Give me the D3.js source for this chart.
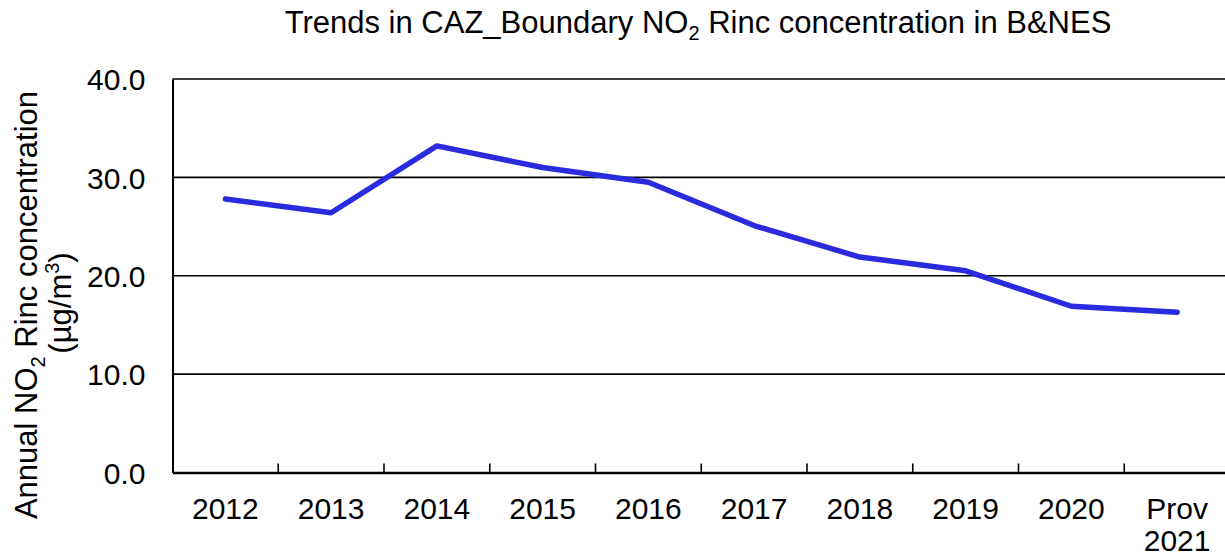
<!DOCTYPE html>
<html>
<head>
<meta charset="utf-8">
<script src="https://cdn.jsdelivr.net/npm/d3@7"></script>
<style>
  body { margin: 0; background: #fff; }
  svg { display: block; font-family: "Liberation Sans", Arial, sans-serif; }
</style>
</head>
<body>
<svg id="chart" width="1225" height="558"></svg>
<script>
const years = ['2012', '2013', '2014', '2015', '2016', '2017', '2018', '2019', '2020', 'Prov 2021']
const values = [27.8, 26.4, 33.2, 31.0, 29.5, 25.1, 21.9, 20.5, 16.9, 16.3]
const yTicks = [0, 10, 20, 30, 40]

const margin = {left: 172.5, top: 79, bottom: 472.5}
const plotRight = 1230

const svg = d3.select('#chart')

const x = d3.scaleBand().domain(years).range([margin.left, plotRight])
const y = d3.scaleLinear().domain([0, 40]).range([margin.bottom, margin.top])

// gridlines
svg.append('g')
  .selectAll('line')
  .data(yTicks.filter(d => d > 0))
  .join('line')
  .attr('x1', margin.left).attr('x2', plotRight)
  .attr('y1', d => y(d)).attr('y2', d => y(d))
  .attr('stroke', '#000').attr('stroke-width', 1.6)

// y axis
const yAxis = svg.append('g')
  .attr('transform', `translate(${margin.left},0)`)
  .call(d3.axisLeft(y).tickValues(yTicks).tickSize(0).tickPadding(27).tickFormat(d3.format('.1f')))
yAxis.select('.domain').attr('stroke-width', 2)
yAxis.selectAll('text').attr('font-size', 30).attr('fill', '#000').attr('font-family', null)
  .attr('dy', '0.36em')

// x axis
const xAxis = svg.append('g')
  .attr('transform', `translate(0,${margin.bottom})`)
  .call(d3.axisBottom(x).tickSize(0).tickFormat(''))
xAxis.select('.domain').attr('stroke-width', 2.4)
xAxis.selectAll('.tick').remove()

// inner tick marks between categories
svg.append('g')
  .selectAll('line')
  .data(years.slice(1))
  .join('line')
  .attr('x1', d => x(d)).attr('x2', d => x(d))
  .attr('y1', margin.bottom).attr('y2', margin.bottom - 9)
  .attr('stroke', '#000').attr('stroke-width', 1.6)

// x labels
const xl = svg.append('g')
  .selectAll('text')
  .data(years)
  .join('text')
  .attr('x', d => x(d) + x.bandwidth() / 2)
  .attr('y', 519)
  .attr('text-anchor', 'middle')
  .attr('font-size', 30)
xl.each(function(d) {
  const parts = d.split(' ')
  const t = d3.select(this)
  parts.forEach((p, i) => {
    t.append('tspan').attr('x', x(d) + x.bandwidth() / 2).attr('dy', i ? 32 : 0).text(p)
  })
})

// line
const line = d3.line()
  .x((d, i) => x(years[i]) + x.bandwidth() / 2)
  .y(d => y(d))
svg.append('path')
  .datum(values)
  .attr('d', line)
  .attr('fill', 'none')
  .attr('stroke', '#2a2adf')
  .attr('stroke-width', 5.5)
  .attr('stroke-linejoin', 'round')
  .attr('stroke-linecap', 'round')

// title
const title = svg.append('text')
  .attr('x', 698).attr('y', 33)
  .attr('text-anchor', 'middle')
  .attr('font-size', 31)
title.append('tspan').text('Trends in CAZ_Boundary NO')
title.append('tspan').text('2').attr('font-size', 20).attr('dy', 7)
title.append('tspan').text(' Rinc concentration in B&NES').attr('dy', -7)

// y axis title
const yt = svg.append('text')
  .attr('transform', 'translate(37,305) rotate(-90)')
  .attr('text-anchor', 'middle')
  .attr('font-size', 31)
yt.append('tspan').text('Annual NO')
yt.append('tspan').text('2').attr('font-size', 20).attr('dy', 8)
yt.append('tspan').text(' Rinc concentration').attr('dy', -8)

const yt2 = svg.append('text')
  .attr('transform', 'translate(71,303) rotate(-90)')
  .attr('text-anchor', 'middle')
  .attr('font-size', 31)
yt2.append('tspan').text('(µg/m')
yt2.append('tspan').text('3').attr('font-size', 20).attr('dy', -12)
yt2.append('tspan').text(')').attr('dy', 12)
</script>
</body>
</html>
